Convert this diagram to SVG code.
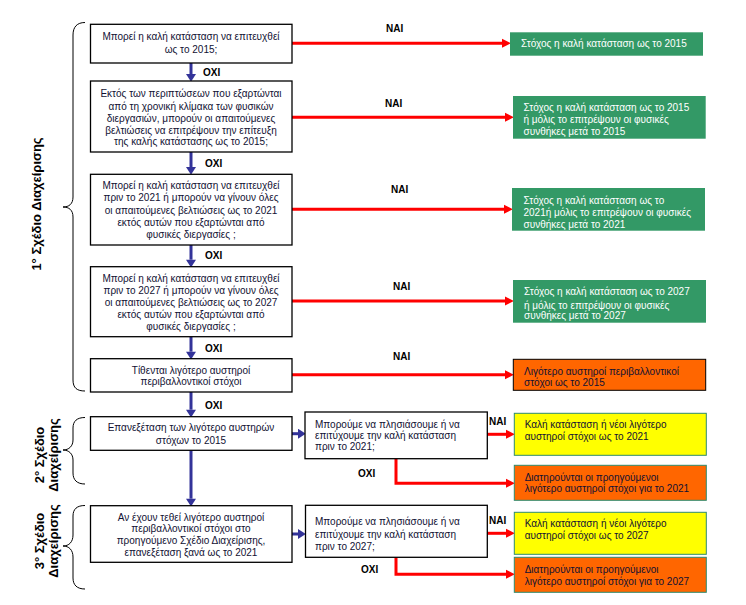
<svg xmlns="http://www.w3.org/2000/svg" width="746" height="605" viewBox="0 0 746 605">
<defs>
<style>
.bx{fill:#fff;stroke:#000;stroke-width:1.3}
.gr{fill:#339966;stroke:none}
.or{fill:#ff6600;stroke:#000;stroke-width:1}
.ob{fill:#ff6600;stroke:#2e8b6e;stroke-width:1}
.ye{fill:#ffff00;stroke:#2e8b6e;stroke-width:1}
.t{font-family:"Liberation Sans",Arial,sans-serif;font-size:10px;fill:#111133}
.c{text-anchor:middle}
.w{fill:#fff}
.lb{font-family:"Liberation Sans",Arial,sans-serif;font-size:10px;font-weight:bold;fill:#000}
.pl{font-family:"Liberation Sans",Arial,sans-serif;font-size:13px;font-weight:bold;fill:#000;text-anchor:middle}
.red{fill:none;stroke:#ff0000;stroke-width:3}
.blu{fill:none;stroke:#333399;stroke-width:3}
.br{fill:none;stroke:#000;stroke-width:1}
</style>
<marker id="ra" markerUnits="userSpaceOnUse" markerWidth="10" markerHeight="10" refX="0" refY="4" orient="auto" viewBox="0 0 9 8"><path d="M0,0 L8,4 L0,8 z" fill="#ff0000"/></marker>
<marker id="ba" markerUnits="userSpaceOnUse" markerWidth="10" markerHeight="10" refX="0" refY="4.5" orient="auto" viewBox="0 0 8 9"><path d="M0,0 L7,4.5 L0,9 z" fill="#333399"/></marker>
</defs>
<rect width="746" height="605" fill="#fff"/>

<g id="braces">
<path class="br" d="M85,22.5 C77,22.5 73,27 73,35 L73,197 C73,204 69,207 63,207 C69,207 73,210 73,217 L73,380 C73,388 77,391 85,391"/>
<path class="br" d="M85,417.5 C77,417.5 73,421 73,428 L73,440 C73,446 69,450 63,450 C69,450 73,454 73,460 L73,473 C73,480 77,484 85,484"/>
<path class="br" d="M85,505.5 C77,505.5 73,509 73,516 L73,535 C73,542 69,546 63,546 C69,546 73,550 73,557 L73,578 C73,585 77,589 85,589"/>
</g>
<g id="plan-labels">
<text class="pl" transform="translate(41,204) rotate(-90)">1° Σχέδιο Διαχείρισης</text>
<text class="pl" transform="translate(44,455) rotate(-90)">2° Σχέδιο</text>
<text class="pl" transform="translate(58,455) rotate(-90)">Διαχείρισης</text>
<text class="pl" transform="translate(44,541) rotate(-90)">3° Σχέδιο</text>
<text class="pl" transform="translate(58,541) rotate(-90)">Διαχείρισης</text>
</g>

<g id="connectors">
<path class="blu" d="M191,63 V74" marker-end="url(#ba)"/>
<path class="blu" d="M191,152 V167" marker-end="url(#ba)"/>
<path class="blu" d="M191,245 V259.7" marker-end="url(#ba)"/>
<path class="blu" d="M191,336.7 V351.7" marker-end="url(#ba)"/>
<path class="blu" d="M191,392 V409.7" marker-end="url(#ba)"/>
<path class="blu" d="M191,450.3 V498.7" marker-end="url(#ba)"/>
<path class="blu" d="M292,433.7 H298" marker-end="url(#ba)"/>
<path class="blu" d="M292,534 H298" marker-end="url(#ba)"/>
<path class="red" d="M292,43.3 H502" marker-end="url(#ra)"/>
<path class="red" d="M292,117.3 H505" marker-end="url(#ra)"/>
<path class="red" d="M292,209.3 H504" marker-end="url(#ra)"/>
<path class="red" d="M292,301 H505" marker-end="url(#ra)"/>
<path class="red" d="M292,374.7 H505" marker-end="url(#ra)"/>
<path class="red" d="M487,434.3 H506" marker-end="url(#ra)"/>
<path class="red" d="M396,458.7 V483.3 H506" marker-end="url(#ra)"/>
<path class="red" d="M487,533.3 H506" marker-end="url(#ra)"/>
<path class="red" d="M396,557.3 V574.3 H506" marker-end="url(#ra)"/>
<text class="lb" x="203" y="75.5">OXI</text>
<text class="lb" x="205" y="166.8">OXI</text>
<text class="lb" x="205" y="258.5">OXI</text>
<text class="lb" x="205" y="351.8">OXI</text>
<text class="lb" x="205" y="408.5">OXI</text>
<text class="lb" x="358" y="476.5">OXI</text>
<text class="lb" x="361" y="572.8">OXI</text>
<text class="lb" x="386" y="32">NAI</text>
<text class="lb" x="385" y="107">NAI</text>
<text class="lb" x="391" y="192.5">NAI</text>
<text class="lb" x="393" y="290">NAI</text>
<text class="lb" x="393" y="359.5">NAI</text>
<text class="lb" x="489" y="425">NAI</text>
<text class="lb" x="489" y="524">NAI</text>
</g>

<g id="q1">
<rect class="bx" x="90.5" y="24.3" width="201.5" height="38.7"/>
<text class="t c" x="191" y="40.2">Μπορεί η καλή κατάσταση να επιτευχθεί</text>
<text class="t c" x="191" y="52.5">ως το 2015;</text>
</g>
<g id="q2">
<rect class="bx" x="90.5" y="81" width="201.5" height="71"/>
<text class="t c" x="191" y="96.8">Εκτός των περιπτώσεων που εξαρτώνται</text>
<text class="t c" x="191" y="109.5">από τη χρονική κλίμακα των φυσικών</text>
<text class="t c" x="191" y="121.8">διεργασιών, μπορούν οι απαιτούμενες</text>
<text class="t c" x="191" y="133.5">βελτιώσεις να επιτρέψουν την επίτευξη</text>
<text class="t c" x="191" y="145.2">της καλής κατάστασης ως το 2015;</text>
</g>
<g id="q3">
<rect class="bx" x="90.5" y="174.3" width="201.5" height="70.7"/>
<text class="t c" x="191" y="189.2">Μπορεί η καλή κατάσταση να επιτευχθεί</text>
<text class="t c" x="191" y="200.8">πριν το 2021 ή μπορούν να γίνουν όλες</text>
<text class="t c" x="191" y="213.5">οι απαιτούμενες βελτιώσεις ως το 2021</text>
<text class="t c" x="191" y="225.8">εκτός αυτών που εξαρτώνται από</text>
<text class="t c" x="191" y="237.5">φυσικές διεργασίες ;</text>
</g>
<g id="q4">
<rect class="bx" x="90.5" y="266.7" width="201.5" height="70"/>
<text class="t c" x="191" y="281.8">Μπορεί η καλή κατάσταση να επιτευχθεί</text>
<text class="t c" x="191" y="293.5">πριν το 2027 ή μπορούν να γίνουν όλες</text>
<text class="t c" x="191" y="305.8">οι απαιτούμενες βελτιώσεις ως το 2027</text>
<text class="t c" x="191" y="317.5">εκτός αυτών που εξαρτώνται από</text>
<text class="t c" x="191" y="330.2">φυσικές διεργασίες ;</text>
</g>
<g id="q5">
<rect class="bx" x="90.5" y="358.7" width="201.5" height="33.3"/>
<text class="t c" x="191" y="373.5">Τίθενται λιγότερο αυστηροί</text>
<text class="t c" x="191" y="385.2">περιβαλλοντικοί στόχοι</text>
</g>
<g id="q6">
<rect class="bx" x="90.5" y="416.7" width="201.5" height="33.6"/>
<text class="t c" x="191" y="431.2">Επανεξέταση των λιγότερο αυστηρών</text>
<text class="t c" x="191" y="443.5">στόχων το 2015</text>
</g>
<g id="q7">
<rect class="bx" x="90.5" y="505.7" width="201.5" height="56.6"/>
<text class="t c" x="191" y="520.5">Αν έχουν τεθεί λιγότερο αυστηροί</text>
<text class="t c" x="191" y="531.8">περιβαλλοντικοί στόχοι στο</text>
<text class="t c" x="191" y="543.8">προηγούμενο Σχέδιο Διαχείρισης,</text>
<text class="t c" x="191" y="555.8">επανεξέταση ξανά ως το 2021</text>
</g>
<g id="m1">
<rect class="bx" x="305" y="412" width="182.3" height="46.7"/>
<text class="t" x="315" y="427.5">Μπορούμε να πλησιάσουμε ή να</text>
<text class="t" x="315" y="438.5">επιτύχουμε την καλή κατάσταση</text>
<text class="t" x="315" y="450.2">πριν το 2021;</text>
</g>
<g id="m2">
<rect class="bx" x="305.5" y="505.3" width="181.8" height="52"/>
<text class="t" x="315" y="525.2">Μπορούμε να πλησιάσουμε ή να</text>
<text class="t" x="315" y="537.5">επιτύχουμε την καλή κατάσταση</text>
<text class="t" x="315" y="549.5">πριν το 2027;</text>
</g>
<g id="g1">
<rect class="gr" x="510" y="32.3" width="193" height="23.4"/>
<text class="t w" x="521" y="47.3">Στόχος η καλή κατάσταση ως το 2015</text>
</g>
<g id="g2">
<rect class="gr" x="513" y="96" width="192.7" height="42.7"/>
<text class="t w" x="523.5" y="111.2">Στόχος η καλή κατάσταση ως το 2015</text>
<text class="t w" x="523.5" y="122.8">ή μόλις το επιτρέψουν οι φυσικές</text>
<text class="t w" x="523.5" y="135.2">συνθήκες μετά το 2015</text>
</g>
<g id="g3">
<rect class="gr" x="512" y="188" width="193" height="42.7"/>
<text class="t w" x="523.5" y="203.5">Στόχος η καλή κατάσταση ως το</text>
<text class="t w" x="523.5" y="216.2">2021ή μόλις το επιτρέψουν οι φυσικές</text>
<text class="t w" x="523.5" y="227.5">συνθήκες μετά το 2021</text>
</g>
<g id="g4">
<rect class="gr" x="513" y="280" width="193" height="42.7"/>
<text class="t w" x="524" y="295.2">Στόχος η καλή κατάσταση ως το 2027</text>
<text class="t w" x="524" y="308.5">ή μόλις το επιτρέψουν οι φυσικές</text>
<text class="t w" x="524" y="319.2">συνθήκες μετά το 2027</text>
</g>
<g id="o1">
<rect class="or" x="513.3" y="359.3" width="192.4" height="31"/>
<text class="t" x="524" y="374.5">Λιγότερο αυστηροί περιβαλλοντικοί</text>
<text class="t" x="524" y="385.5">στόχοι ως το 2015</text>
</g>
<g id="y1">
<rect class="ye" x="514.3" y="413.3" width="192" height="42"/>
<text class="t" x="524.7" y="427.8">Καλή κατάσταση ή νέοι λιγότερο</text>
<text class="t" x="524.7" y="440.2">αυστηροί στόχοι ως το 2021</text>
</g>
<g id="o2">
<rect class="ob" x="514.3" y="465.3" width="192" height="35"/>
<text class="t" x="524.7" y="480.8">Διατηρούνται οι προηγούμενοι</text>
<text class="t" x="524.7" y="492.2">λιγότερο  αυστηροί στόχοι για το 2021</text>
</g>
<g id="y2">
<rect class="ye" x="514.3" y="512.3" width="192" height="42"/>
<text class="t" x="524.7" y="527.2">Καλή κατάσταση ή νέοι λιγότερο</text>
<text class="t" x="524.7" y="539.2">αυστηροί στόχοι ως το 2027</text>
</g>
<g id="o3">
<rect class="ob" x="514.3" y="557.3" width="192" height="35"/>
<text class="t" x="524.7" y="572.8">Διατηρούνται οι προηγούμενοι</text>
<text class="t" x="524.7" y="584.5">λιγότερο  αυστηροί στόχοι για το 2027</text>
</g>
</svg>
